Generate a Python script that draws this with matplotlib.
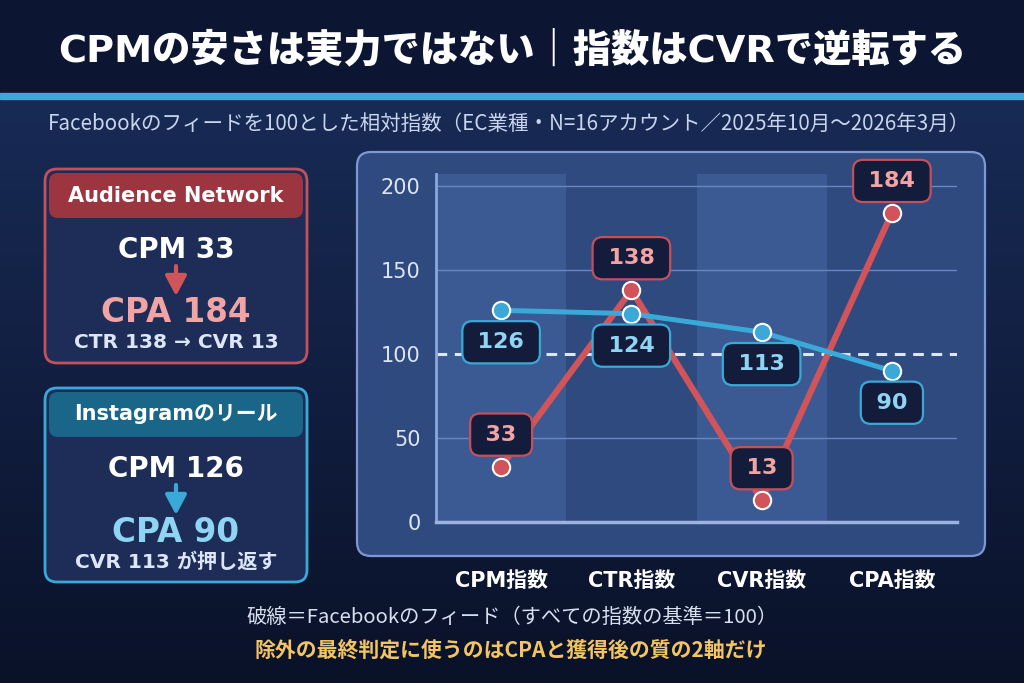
import matplotlib
matplotlib.use("Agg")
import matplotlib.pyplot as plt
import numpy as np
from matplotlib.patches import FancyBboxPatch, Rectangle
from matplotlib.colors import LinearSegmentedColormap

CJK = ['Noto Sans CJK JP', 'DejaVu Sans']
WIDE = ['DejaVu Sans', 'Noto Sans CJK JP']
plt.rcParams['font.family'] = CJK

# ---------------- data ----------------
categories = ["CPM指数", "CTR指数", "CVR指数", "CPA指数"]
audience_network = [33, 138, 13, 184]
instagram_reels = [126, 124, 113, 90]
baseline = 100
y_ticks = [0, 50, 100, 150, 200]

title = "CPMの安さは実力ではない｜指数はCVRで逆転する"
subtitle = "Facebookのフィードを100とした相対指数（EC業種・N=16アカウント／2025年10月〜2026年3月）"
note1 = "破線＝Facebookのフィード（すべての指数の基準＝100）"
note2 = "除外の最終判定に使うのはCPAと獲得後の質の2軸だけ"
card1_head = "Audience Network"
card1_l1 = "CPM 33"
card1_l2 = "CPA 184"
card1_l3 = "CTR 138 → CVR 13"
card2_head = "Instagramのリール"
card2_l1 = "CPM 126"
card2_l2 = "CPA 90"
card2_l3 = "CVR 113 が押し返す"

# ---------------- colours ----------------
RED = "#d0545a"
RED_DARK = "#9b3540"
PINK = "#f2a3a3"
BLUE = "#3aa9d8"
BLUE_DARK = "#1a6688"
LBLUE = "#8fd4f2"
NAVY_BOX = "#131c3b"
W, H = 1024, 683

fig = plt.figure(figsize=(W / 100, H / 100), dpi=100)

# decoration layer in pixel coordinates
bg = fig.add_axes([0, 0, 1, 1], zorder=0)
bg.set_xlim(0, W)
bg.set_ylim(H, 0)
bg.axis("off")

grad = LinearSegmentedColormap.from_list("g", ["#182b55", "#111e40", "#0a1228"])
bg.imshow(np.linspace(0, 1, 256).reshape(-1, 1), cmap=grad, aspect="auto",
          extent=(0, W, H, 99), zorder=0)
bg.add_patch(Rectangle((0, 0), W, 93, color="#0c1632", zorder=1))
bg.add_patch(Rectangle((0, 93), W, 6, color="#3ba8d8", zorder=1))

bg.text(512, 50, title, ha="center", va="center", color="white",
        fontsize=27.5, fontweight="heavy", family=WIDE, zorder=2)
bg.text(508.5, 124, subtitle, ha="center", va="center", color="#c9d5ee",
        fontsize=14.8, zorder=2)

# chart panel
bg.add_patch(FancyBboxPatch((357, 152), 628, 404,
                            boxstyle="round,pad=0,rounding_size=14",
                            fc="#2e4a7f", ec="#7e99d2", lw=1.6, zorder=1))

# cards
def card(y0, edge, head_fc, head, l1, l2, l2c, l3, arrow_c):
    bg.add_patch(FancyBboxPatch((45, y0), 262, 194,
                                boxstyle="round,pad=0,rounding_size=12",
                                fc="#1d2d58", ec=edge, lw=2, zorder=1))
    bg.add_patch(FancyBboxPatch((49, y0 + 4), 254, 45,
                                boxstyle="round,pad=0,rounding_size=9",
                                fc=head_fc, ec="none", zorder=2))
    bg.text(176, y0 + 26.5, head, ha="center", va="center", color="white",
            fontsize=15, fontweight="bold", family=WIDE, zorder=3)
    bg.text(176, y0 + 81, l1, ha="center", va="center", color="white",
            fontsize=20, fontweight="bold", family=WIDE, zorder=3)
    bg.annotate("", xy=(176, y0 + 127), xytext=(176, y0 + 97),
                arrowprops=dict(arrowstyle="-|>,head_width=0.4,head_length=0.75",
                                color=arrow_c, lw=3, mutation_scale=16,
                                shrinkA=0, shrinkB=0), zorder=3)
    bg.text(176, y0 + 144, l2, ha="center", va="center", color=l2c,
            fontsize=23.5, fontweight="bold", family=WIDE, zorder=3)
    bg.text(176, y0 + 174, l3, ha="center", va="center", color="#dde6f6",
            fontsize=14.5, fontweight="bold", family=WIDE, zorder=3)

card(169, "#c4505c", RED_DARK, card1_head, card1_l1, card1_l2, PINK, card1_l3, RED)
card(388, BLUE, BLUE_DARK, card2_head, card2_l1, card2_l2, LBLUE, card2_l3, BLUE)

bg.text(512, 617, note1, ha="center", va="center", color="#d8e0f0",
        fontsize=14.6, zorder=2)
bg.text(511, 650, note2, ha="center", va="center", color="#f2c462",
        fontsize=15, fontweight="bold", zorder=2)

# ---------------- chart ----------------
x0, x1, ytop, ybot = 436, 957, 174, 522
ax = fig.add_axes([x0 / W, (H - ybot) / H, (x1 - x0) / W, (ybot - ytop) / H], zorder=2)
ax.set_facecolor("none")
ax.set_xlim(-0.5, 3.5)
ax.set_ylim(0, (ybot - ytop) / 1.68)

x = np.arange(len(categories))
for i in x:
    if i % 2 == 0:
        ax.axvspan(i - 0.5, i + 0.5, color="#3b5a93", zorder=0, lw=0)

for v in y_ticks[1:]:
    if v != baseline:
        ax.axhline(v, color="#6a86c0", lw=1, zorder=1)
ax.axhline(baseline, color="#dfe6f3", lw=2.2, ls=(0, (3.5, 2.5)), zorder=2)

for s in ["top", "right"]:
    ax.spines[s].set_visible(False)
ax.spines["left"].set_color("#8ea6dc")
ax.spines["left"].set_linewidth(2)
ax.spines["bottom"].set_color("#9cb2e0")
ax.spines["bottom"].set_linewidth(2.5)

ax.set_yticks(y_ticks)
ax.set_yticklabels([str(v) for v in y_ticks], fontsize=15, color="#dfe6f3",
                   family=WIDE)
ax.set_xticks(x)
ax.set_xticklabels(categories, fontsize=15, fontweight="bold", color="white",
                   family=WIDE)
ax.tick_params(axis="y", length=0, pad=11)
ax.tick_params(axis="x", length=0, pad=35)

ax.plot(x, audience_network, color=RED, lw=4.5, zorder=3, solid_capstyle="round")
ax.plot(x, instagram_reels, color=BLUE, lw=3.6, zorder=4, solid_capstyle="round")
ax.plot(x, audience_network, "o", ms=12.5, mfc=RED, mec="white", mew=1.5, zorder=5)
ax.plot(x, instagram_reels, "o", ms=12.5, mfc=BLUE, mec="white", mew=1.5, zorder=5)

TS = "\u2009"
for xi, v in zip(x, audience_network):
    ax.annotate(f"{TS}{v}{TS}", (xi, v), xytext=(0, 23), textcoords="offset points",
                ha="center", va="center", fontsize=16, fontweight="bold", color=PINK,
                family=WIDE,
                bbox=dict(boxstyle="round,pad=0.5,rounding_size=0.45",
                          fc=NAVY_BOX, ec="#c4505c", lw=1.6), zorder=6)
for xi, v in zip(x, instagram_reels):
    ax.annotate(f"{TS}{v}{TS}", (xi, v), xytext=(0, -23), textcoords="offset points",
                ha="center", va="center", fontsize=16, fontweight="bold", color=LBLUE,
                family=WIDE,
                bbox=dict(boxstyle="round,pad=0.5,rounding_size=0.45",
                          fc=NAVY_BOX, ec=BLUE, lw=1.6), zorder=6)

fig.savefig("out.png", dpi=100)
